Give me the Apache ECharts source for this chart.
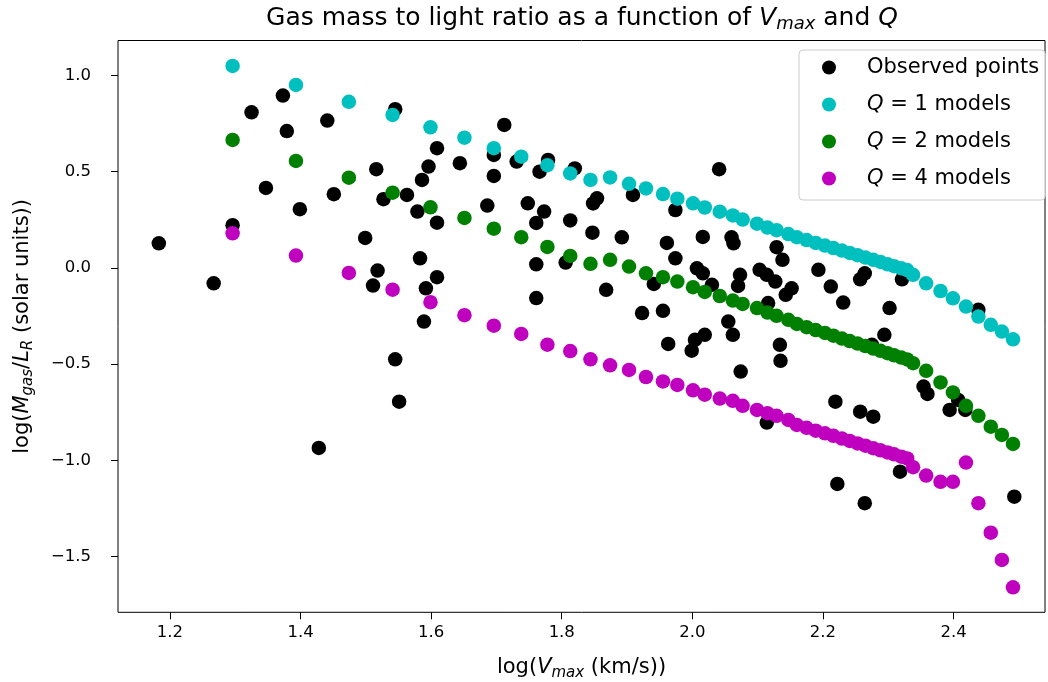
<!DOCTYPE html>
<html>
<head>
<meta charset="utf-8">
<script src="https://cdn.jsdelivr.net/npm/echarts@6/dist/echarts.min.js"></script>
<style>html,body{margin:0;padding:0;background:#fff}#c{width:1048px;height:682px}</style>
</head>
<body>
<div id="c"></div>
<script>
const xTicks = [1.2, 1.4, 1.6, 1.8, 2.0, 2.2, 2.4];
const yTicks = [-1.5, -1.0, -0.5, 0.0, 0.5, 1.0];

const obsX = [1.183,1.267,1.296,1.325,1.347,1.373,1.379,1.399,1.428,1.441,1.451,1.499,1.516,1.518,1.511,1.527,1.545,1.545,1.551,1.563,
  1.579,1.583,1.586,1.589,1.592,1.596,1.609,1.609,1.609,1.644,1.686,1.696,1.696,1.712,1.731,1.748,1.761,1.761,1.761,1.766,
  1.773,1.779,1.806,1.813,1.820,1.847,1.854,1.848,1.868,1.892,1.909,1.923,1.941,1.955,1.961,1.963,1.974,1.974,1.999,2.004,
  2.007,2.016,2.016,2.019,2.030,2.041,2.055,2.060,2.063,2.062,2.070,2.073,2.074,2.103,2.114,2.114,2.116,2.127,2.129,2.134,
  2.135,2.138,2.143,2.152,2.193,2.212,2.231,2.257,2.264,2.275,2.294,2.302,2.321,2.354,2.360,2.219,2.257,2.277,2.394,2.407,
  2.418,2.222,2.264,2.318,2.493,2.438];
const obsY = [0.128,-0.080,0.222,0.809,0.416,0.896,0.711,0.305,-0.936,0.766,0.383,0.156,0.513,-0.014,-0.092,0.357,0.825,-0.475,-0.695,0.379,
  0.293,0.050,0.457,-0.279,-0.106,0.527,0.622,0.235,-0.048,0.544,0.324,0.587,0.478,0.743,0.553,0.336,0.234,0.019,-0.157,0.500,
  0.293,0.561,0.028,0.247,0.517,0.183,0.362,0.335,-0.114,0.159,0.379,-0.235,-0.083,-0.223,0.130,-0.395,0.301,0.050,-0.430,-0.374,
  -0.002,0.161,-0.028,-0.348,-0.088,0.513,-0.279,0.159,0.128,-0.348,-0.094,-0.036,-0.539,-0.010,-0.036,-0.804,-0.183,-0.071,0.108,-0.400,
  -0.483,0.042,-0.140,-0.106,-0.010,-0.097,-0.180,-0.059,-0.028,-0.400,-0.348,-0.209,-0.059,-0.617,-0.655,-0.695,-0.747,-0.773,-0.738,-0.686,
  -0.738,-1.123,-1.223,-1.059,-1.189,-0.218];

const modelX = [1.296,1.393,1.474,1.541,1.599,1.651,1.696,1.738,1.778,1.813,1.844,1.874,1.903,1.929,1.955,1.977,2.001,2.019,2.042,2.062,
  2.077,2.099,2.115,2.129,2.147,2.160,2.175,2.189,2.203,2.216,2.229,2.241,2.253,2.265,2.277,2.288,2.299,2.309,2.320,2.329,
  2.338,2.358,2.380,2.399,2.419,2.438,2.457,2.474,2.491];
const q1Y = [1.050,0.951,0.863,0.795,0.731,0.677,0.622,0.578,0.534,0.491,0.457,0.470,0.437,0.413,0.384,0.360,0.336,0.314,0.292,0.273,
  0.251,0.230,0.210,0.196,0.176,0.160,0.145,0.130,0.116,0.103,0.090,0.078,0.066,0.054,0.042,0.031,0.019,0.009,-0.002,-0.011,
  -0.036,-0.080,-0.120,-0.158,-0.201,-0.253,-0.296,-0.331,-0.371];
const q2Y = [0.665,0.556,0.469,0.391,0.315,0.260,0.204,0.160,0.109,0.062,0.021,0.042,0.007,-0.028,-0.048,-0.071,-0.100,-0.125,-0.146,-0.170,
  -0.187,-0.209,-0.232,-0.249,-0.270,-0.291,-0.308,-0.323,-0.338,-0.352,-0.367,-0.380,-0.393,-0.406,-0.419,-0.431,-0.443,-0.454,-0.466,-0.476,
  -0.495,-0.535,-0.595,-0.647,-0.717,-0.769,-0.825,-0.868,-0.915];
const q4Y = [0.180,0.064,-0.026,-0.113,-0.178,-0.246,-0.300,-0.343,-0.399,-0.432,-0.475,-0.506,-0.530,-0.567,-0.590,-0.608,-0.636,-0.659,-0.679,-0.691,
  -0.717,-0.738,-0.755,-0.769,-0.790,-0.816,-0.831,-0.846,-0.860,-0.873,-0.887,-0.899,-0.912,-0.924,-0.937,-0.948,-0.959,-0.969,-0.981,-0.990,
  -1.036,-1.079,-1.112,-1.112,-1.012,-1.223,-1.376,-1.518,-1.660];

const seriesNames = ['Observed points', 'Q = 1 models', 'Q = 2 models', 'Q = 4 models'];
const seriesColors = ['#000000', '#00bfbf', '#008000', '#bf00bf'];

const FONT = 'DejaVu Sans';
const zip = (xs, ys) => xs.map((x, i) => [x, ys[i]]);
const data = [zip(obsX, obsY), zip(modelX, q1Y), zip(modelX, q2Y), zip(modelX, q4Y)];

const richBase = (size, subSize, lh, subLh) => ({
  i: { fontFamily: FONT, fontStyle: 'italic', fontSize: size, lineHeight: lh, color: '#000' },
  sub: { fontFamily: FONT, fontStyle: 'italic', fontSize: subSize, lineHeight: subLh, verticalAlign: 'bottom', color: '#000' }
});

const chart = echarts.init(document.getElementById('c'), null, { renderer: 'canvas' });
chart.setOption({
  animation: false,
  backgroundColor: '#ffffff',
  textStyle: { fontFamily: FONT },
  graphic: [{
    type: 'text',
    x: 582, y: 18,
    style: {
      text: 'Gas mass to light ratio as a function of {i|V}{sub|max} and {i|Q}',
      fontFamily: FONT, fontSize: 25, lineHeight: 30, fill: '#000',
      align: 'center', verticalAlign: 'middle',
      rich: richBase(25, 18, 30, 17)
    }
  }],
  grid: {
    left: 118, right: 3, top: 40.5, bottom: 69.7,
    show: true, borderColor: '#000', borderWidth: 1, backgroundColor: 'transparent',
    outerBoundsMode: 'none'
  },
  legend: {
    orient: 'vertical', left: 799, top: 50,
    padding: [7, 6, 11, 23],
    itemWidth: 14, itemHeight: 14, itemGap: 16,
    icon: 'circle',
    borderColor: '#cccccc', borderWidth: 1, borderRadius: 4,
    backgroundColor: 'rgba(255,255,255,0.8)',
    data: seriesNames,
    formatter: name => name.replace(/^Q/, '{i|Q}'),
    textStyle: {
      fontFamily: FONT, fontSize: 21, lineHeight: 21, color: '#000', padding: [0, 0, 0, 26],
      rich: { i: { fontFamily: FONT, fontStyle: 'italic', fontSize: 21, lineHeight: 21, color: '#000' } }
    }
  },
  xAxis: {
    type: 'value', min: 1.1205, max: 2.54,
    name: 'log({i|V}{sub|max} (km/s))', nameLocation: 'middle', nameGap: 42,
    nameTextStyle: { fontFamily: FONT, fontSize: 21, lineHeight: 26, color: '#000', rich: richBase(21, 15, 26, 14) },
    splitLine: { show: false },
    axisLine: { show: false, onZero: false },
    axisTick: { show: true, length: 7, lineStyle: { color: '#000', width: 1 }, customValues: xTicks },
    axisLabel: { customValues: xTicks, margin: 12, fontFamily: FONT, fontSize: 16.5, color: '#000',
      formatter: v => v.toFixed(1) }
  },
  yAxis: {
    type: 'value', min: -1.79, max: 1.182,
    name: 'log({i|M}{sub|gas}/{i|L}{sub|R} (solar units))', nameLocation: 'middle', nameGap: 82, nameRotate: 90,
    nameTextStyle: { fontFamily: FONT, fontSize: 21, lineHeight: 26, color: '#000', rich: richBase(21, 15, 26, 14) },
    splitLine: { show: false },
    axisLine: { show: false, onZero: false },
    axisTick: { show: true, length: 7, lineStyle: { color: '#000', width: 1 }, customValues: yTicks },
    axisLabel: { customValues: yTicks, margin: 27, fontFamily: FONT, fontSize: 16.5, color: '#000',
      formatter: v => v.toFixed(1).replace('-', '\u2212') }
  },
  series: seriesNames.map((n, k) => ({
    name: n, type: 'scatter', data: data[k], symbol: 'circle', symbolSize: 14.5,
    itemStyle: { color: seriesColors[k], opacity: 1 },
    emphasis: { disabled: true }
  }))
});
</script>
</body>
</html>
